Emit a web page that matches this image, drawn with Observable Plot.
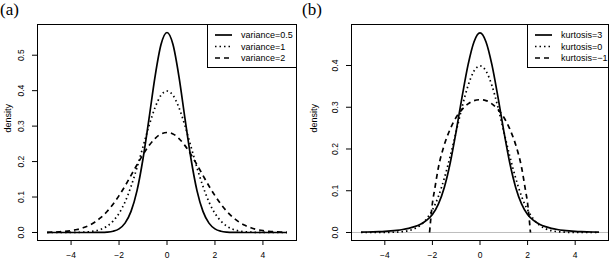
<!DOCTYPE html>
<html><head><meta charset="utf-8">
<script src="https://cdn.jsdelivr.net/npm/d3@7"></script>
<script src="https://cdn.jsdelivr.net/npm/@observablehq/plot@0.6"></script>
<style>
body{margin:0;background:#fff;}
#wrap{position:relative;width:609px;height:260px;overflow:hidden;background:#fff;}
#wrap > svg{position:absolute;top:0;}
.plab{position:absolute;top:1px;font-family:"Liberation Serif","Times New Roman",serif;font-size:17px;line-height:17px;color:#000;}
</style></head><body>
<div id="wrap"></div>
<script>
// ---------- data ----------
const panelLabels = ["(a)", "(b)"];
const yAxisLabel = "density";
const xTicks = [-4, -2, 0, 2, 4];
const yTicksA = [0, 0.1, 0.2, 0.3, 0.4, 0.5];
const yTicksB = [0, 0.1, 0.2, 0.3, 0.4];

const xGrid = [-5,-4.75,-4.5,-4.25,-4,-3.75,-3.5,-3.25,-3,-2.75,-2.5,-2.25,-2,-1.75,-1.5,-1.25,-1,-0.75,-0.5,-0.25,0,
  0.25,0.5,0.75,1,1.25,1.5,1.75,2,2.25,2.5,2.75,3,3.25,3.5,3.75,4,4.25,4.5,4.75,5];

// panel (a)
const varLabels = ["variance=0.5", "variance=1", "variance=2"];
const var05 = [0,0,0,0,0,0,0,0,0.0001,0.0003,0.0011,0.0036,0.0103,0.0264,0.0595,0.118,0.208,0.321,0.439,0.530,0.564,
  0.530,0.439,0.321,0.208,0.118,0.0595,0.0264,0.0103,0.0036,0.0011,0.0003,0.0001,0,0,0,0,0,0,0,0];
const var1 = [0,0,0,0,0.0001,0.0004,0.0009,0.0020,0.0044,0.0091,0.0175,0.032,0.054,0.086,0.130,0.183,0.242,0.301,0.352,0.387,0.399,
  0.387,0.352,0.301,0.242,0.183,0.130,0.086,0.054,0.032,0.0175,0.0091,0.0044,0.0020,0.0009,0.0004,0.0001,0,0,0,0];
const var2 = [0.0005,0.0010,0.0018,0.0031,0.0052,0.0084,0.0132,0.0201,0.0297,0.0426,0.0591,0.0796,0.104,0.131,0.161,0.191,0.220,0.245,0.265,0.278,0.282,
  0.278,0.265,0.245,0.220,0.191,0.161,0.131,0.104,0.0796,0.0591,0.0426,0.0297,0.0201,0.0132,0.0084,0.0052,0.0031,0.0018,0.0010,0.0005];

// panel (b)
const kurtLabels = ["kurtosis=3", "kurtosis=0", "kurtosis=\u22121"];
const kurt3 = [0.0009,0.0012,0.0016,0.0021,0.0028,0.0038,0.0052,0.0072,0.0100,0.014,0.020,0.029,0.043,0.068,0.108,0.167,0.243,0.326,0.402,0.457,0.478,
  0.457,0.402,0.326,0.243,0.167,0.108,0.068,0.043,0.029,0.020,0.014,0.0100,0.0072,0.0052,0.0038,0.0028,0.0021,0.0016,0.0012,0.0009];
const kurt0 = var1.slice();
const xSemi = [-2.12,-2,-1.9,-1.75,-1.5,-1.25,-1,-0.75,-0.5,-0.25,0,0.25,0.5,0.75,1,1.25,1.5,1.75,1.9,2,2.12];
const kurtM1 = [0,0.07,0.105,0.155,0.21,0.248,0.276,0.295,0.308,0.316,0.318,0.316,0.308,0.295,0.276,0.248,0.21,0.155,0.105,0.07,0];

// ---------- drawing ----------
const LW = 1.7;
const dashes = [null, "1.5,3", "5,4"];
const fmtX = d => d < 0 ? "\u2212" + Math.abs(d) : String(d);
const pts = (xs, ys) => xs.map((x, i) => ({x, y: ys[i]}));

function panel(o) {
  const marks = [];
  if (o.zeroRule) marks.push(Plot.ruleY([0], {stroke: "#bebebe", strokeWidth: 1}));
  o.series.forEach((s, i) => marks.push(Plot.line(s, {
    x: "x", y: "y", stroke: "black", strokeWidth: LW, curve: "monotone-x",
    strokeDasharray: dashes[i] || undefined, strokeLinecap: "butt"
  })));
  marks.push(Plot.frame({stroke: "black"}));
  marks.push(Plot.axisX({ticks: xTicks, tickSize: 5, tickPadding: 6, tickFormat: fmtX, label: null, fontSize: 8.5}));
  marks.push(Plot.axisY({ticks: o.yTicks, tickSize: 5, tickPadding: 9, tickRotate: -90,
    tickFormat: d3.format(".1f"), label: null, fontSize: 8.5}));
  marks.push(Plot.text([yAxisLabel], {text: d => d, frameAnchor: "left", rotate: -90, dx: o.ylabDx, fontSize: 9}));
  const svg = Plot.plot({
    width: 305, height: 260,
    marginLeft: o.mL, marginRight: o.mR, marginTop: 24, marginBottom: 20,
    x: {domain: [-5.4, 5.4]},
    y: {domain: o.yDomain},
    style: {fontFamily: "'Liberation Sans', Arial, sans-serif", fontSize: "9px", background: "white", color: "black", overflow: "visible"},
    marks
  });
  // legend (top-right of the plotting frame)
  const right = 305 - o.mR;
  const g = d3.select(svg).append("g").attr("font-size", 9).attr("text-anchor", "start");
  const x0 = right - o.legW;
  g.append("rect").attr("x", x0 + 0.5).attr("y", 24.5).attr("width", o.legW).attr("height", 43)
    .attr("fill", "white").attr("stroke", "black");
  o.labels.forEach((lab, i) => {
    const y = 35 + i * 11.5;
    g.append("line").attr("x1", x0 + 8).attr("x2", x0 + 25).attr("y1", y).attr("y2", y)
      .attr("stroke", "black").attr("stroke-width", LW).attr("stroke-dasharray", dashes[i]);
    g.append("text").attr("x", x0 + 34).attr("y", y).attr("dy", "0.35em")
      .attr("text-anchor", "start").attr("fill", "black").text(lab);
  });
  svg.style.left = o.left + "px";
  return svg;
}

const wrap = document.getElementById("wrap");
wrap.appendChild(panel({
  left: 0, mL: 37, mR: 9, yDomain: [-0.0226, 0.5866], yTicks: yTicksA, ylabDx: -29, legW: 89,
  series: [pts(xGrid, var05), pts(xGrid, var1), pts(xGrid, var2)], labels: varLabels, zeroRule: false
}));
wrap.appendChild(panel({
  left: 304, mL: 47, mR: 1, yDomain: [-0.0192, 0.4982], yTicks: yTicksB, ylabDx: -37, legW: 81,
  series: [pts(xGrid, kurt3), pts(xGrid, kurt0), pts(xSemi, kurtM1)], labels: kurtLabels, zeroRule: true
}));
panelLabels.forEach((t, i) => {
  const d = document.createElement("div");
  d.className = "plab";
  d.style.left = (i === 0 ? 0 : 302) + "px";
  d.textContent = t;
  wrap.appendChild(d);
});
</script>
</body></html>
